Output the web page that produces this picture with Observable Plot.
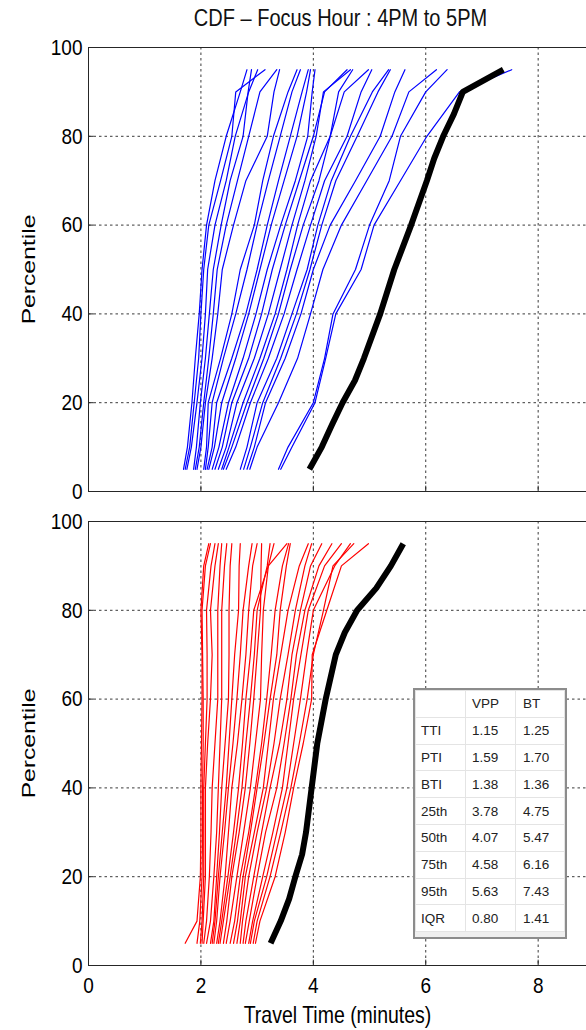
<!DOCTYPE html>
<html>
<head>
<meta charset="utf-8">
<script src="https://cdn.jsdelivr.net/npm/d3@7"></script>
<script src="https://cdn.jsdelivr.net/npm/@observablehq/plot@0.6"></script>
<style>
  body { margin: 0; background: #fff; }
  #wrap { position: relative; width: 586px; height: 1030px; overflow: hidden; background: #fff;
          font-family: "Liberation Sans", Arial, sans-serif; }
  #wrap svg { position: absolute; left: 0; }
  #tbl { position: absolute; left: 413px; top: 688px; width: 154px; height: 251px; box-sizing: border-box;
         border: 2px solid #8c8c8c; background: #efefef; }
  #tbl table { border-collapse: collapse; table-layout: fixed; background: #fff; }
  #tbl td { height: 26.8px; padding: 0 0 0 5px; border: 1px solid #e4e4e4; font-size: 13.5px; color: #222;
            box-sizing: border-box; white-space: nowrap; }
</style>
</head>
<body>
<div id="wrap"></div>
<script>
// ---------- data ----------
const titleText = "CDF \u2013 Focus Hour : 4PM to 5PM";
const yLabel = "Percentile";
const xLabel = "Travel Time (minutes)";
const xTicks = [0, 2, 4, 6, 8];
const yTicks = [0, 20, 40, 60, 80, 100];
const xGrid = [2, 4, 6, 8];
const yGrid = [20, 40, 60, 80];

// percentile levels for individual runs
const runPct = [5, 10, 20, 30, 40, 50, 60, 70, 80, 90, 95];
// percentile levels for the thick summary curves
const sumPct = [5, 10, 15, 20, 25, 30, 40, 50, 60, 70, 75, 80, 85, 90, 95];

// top panel: blue runs (travel time, minutes, at runPct)
const blueRuns = [
  [1.69, 1.76, 1.84, 1.90, 1.97, 2.02, 2.10, 2.25, 2.45, 2.70, 2.82],
  [1.72, 1.80, 1.88, 1.96, 2.00, 2.05, 2.14, 2.35, 2.55, 2.62, 3.14],
  [1.75, 1.83, 1.93, 2.02, 2.08, 2.12, 2.25, 2.45, 2.61, 2.85, 3.01],
  [1.87, 1.92, 1.99, 2.08, 2.15, 2.22, 2.36, 2.52, 2.75, 2.84, 2.90],
  [1.90, 1.97, 2.05, 2.14, 2.22, 2.29, 2.45, 2.65, 2.85, 3.05, 3.35],
  [1.93, 2.00, 2.08, 2.20, 2.30, 2.38, 2.58, 2.80, 3.18, 3.30, 3.40],
  [2.05, 2.10, 2.13, 2.35, 2.55, 2.70, 2.95, 3.10, 3.29, 3.55, 3.71],
  [2.08, 2.13, 2.20, 2.40, 2.62, 2.82, 3.00, 3.20, 3.41, 3.62, 3.77],
  [2.11, 2.20, 2.28, 2.55, 2.80, 3.00, 3.18, 3.38, 3.59, 3.80, 3.91],
  [2.14, 2.24, 2.37, 2.62, 2.85, 3.05, 3.25, 3.48, 3.71, 3.88, 3.95],
  [2.20, 2.32, 2.49, 2.75, 2.98, 3.18, 3.42, 3.68, 3.90, 3.98, 4.03],
  [2.25, 2.38, 2.55, 2.85, 3.08, 3.27, 3.50, 3.75, 4.00, 4.20, 4.60],
  [2.31, 2.45, 2.64, 2.95, 3.20, 3.41, 3.62, 3.85, 4.05, 4.18, 4.66],
  [2.37, 2.50, 2.75, 3.05, 3.32, 3.53, 3.72, 3.95, 4.30, 4.45, 4.70],
  [2.40, 2.55, 2.82, 3.12, 3.38, 3.59, 3.82, 4.10, 4.30, 4.55, 4.98],
  [2.45, 2.62, 2.88, 3.20, 3.48, 3.71, 3.95, 4.20, 4.60, 4.85, 5.04],
  [2.70, 2.82, 3.00, 3.35, 3.62, 3.89, 4.08, 4.32, 4.66, 5.05, 5.34],
  [2.76, 2.88, 3.10, 3.42, 3.70, 3.94, 4.15, 4.40, 4.78, 5.15, 5.37],
  [2.82, 2.95, 3.15, 3.50, 3.78, 4.00, 4.30, 4.75, 5.19, 5.45, 5.63],
  [2.87, 3.00, 3.38, 3.72, 3.95, 4.17, 4.50, 4.95, 5.40, 5.70, 6.19],
  [3.38, 3.55, 4.00, 4.20, 4.35, 4.75, 5.00, 5.35, 5.55, 6.00, 6.38],
  [3.42, 3.62, 4.03, 4.22, 4.40, 4.85, 5.08, 5.55, 6.02, 6.60, 7.53]
];
// top panel: thick black curve (BT)
const blackTop = [3.93, 4.15, 4.33, 4.52, 4.74, 4.90, 5.19, 5.44, 5.74, 6.02, 6.15, 6.31, 6.50, 6.66, 7.38];

// bottom panel: red runs
const redRuns = [
  [1.72, 1.93, 1.99, 2.00, 2.00, 2.01, 2.02, 2.02, 2.00, 2.05, 2.14],
  [1.93, 1.98, 2.02, 2.03, 2.03, 2.04, 2.04, 2.03, 2.02, 2.08, 2.17],
  [1.99, 2.02, 2.05, 2.05, 2.05, 2.08, 2.11, 2.11, 2.10, 2.18, 2.25],
  [2.02, 2.04, 2.08, 2.08, 2.08, 2.12, 2.17, 2.20, 2.17, 2.25, 2.31],
  [2.05, 2.10, 2.15, 2.18, 2.20, 2.25, 2.30, 2.30, 2.30, 2.34, 2.37],
  [2.10, 2.17, 2.23, 2.28, 2.31, 2.34, 2.37, 2.37, 2.37, 2.42, 2.46],
  [2.17, 2.23, 2.28, 2.33, 2.37, 2.43, 2.49, 2.50, 2.50, 2.52, 2.55],
  [2.20, 2.25, 2.31, 2.38, 2.45, 2.50, 2.55, 2.60, 2.67, 2.68, 2.70],
  [2.23, 2.28, 2.34, 2.42, 2.49, 2.57, 2.64, 2.70, 2.75, 2.85, 2.91],
  [2.28, 2.34, 2.43, 2.49, 2.55, 2.65, 2.73, 2.80, 2.85, 2.92, 3.00],
  [2.31, 2.37, 2.48, 2.58, 2.67, 2.74, 2.80, 2.88, 2.94, 3.20, 3.53],
  [2.34, 2.40, 2.52, 2.63, 2.73, 2.80, 2.88, 2.95, 3.00, 3.18, 3.23],
  [2.40, 2.46, 2.55, 2.68, 2.79, 2.87, 2.94, 3.00, 3.06, 3.07, 3.08],
  [2.45, 2.52, 2.64, 2.76, 2.88, 2.97, 3.06, 3.08, 3.11, 3.20, 3.30],
  [2.52, 2.60, 2.70, 2.85, 2.97, 3.08, 3.17, 3.25, 3.32, 3.45, 3.56],
  [2.58, 2.65, 2.75, 2.88, 3.00, 3.12, 3.23, 3.35, 3.41, 3.52, 3.59],
  [2.64, 2.70, 2.79, 2.95, 3.11, 3.20, 3.29, 3.42, 3.55, 3.75, 3.91],
  [2.70, 2.74, 2.85, 3.00, 3.17, 3.30, 3.41, 3.55, 3.68, 3.85, 3.97],
  [2.75, 2.80, 2.94, 3.08, 3.23, 3.40, 3.53, 3.62, 3.77, 3.95, 4.15],
  [2.79, 2.86, 3.00, 3.15, 3.35, 3.48, 3.60, 3.70, 3.85, 4.10, 4.33],
  [2.85, 2.92, 3.10, 3.28, 3.45, 3.55, 3.65, 3.78, 3.91, 4.20, 4.50],
  [2.88, 2.95, 3.17, 3.35, 3.53, 3.65, 3.77, 3.88, 4.00, 4.38, 4.66],
  [2.93, 3.00, 3.23, 3.42, 3.60, 3.75, 3.89, 4.00, 4.18, 4.35, 4.72],
  [2.97, 3.05, 3.32, 3.50, 3.65, 3.82, 3.97, 3.98, 4.24, 4.50, 4.98]
];
// bottom panel: thick black curve (VPP)
const blackBottom = [3.24, 3.42, 3.57, 3.68, 3.80, 3.87, 3.97, 4.07, 4.22, 4.40, 4.56, 4.78, 5.12, 5.38, 5.60];

// summary table
const tableRows = ["TTI", "PTI", "BTI", "25th", "50th", "75th", "95th", "IQR"];
const tableHeader = ["", "VPP", "BT"];
const vppValues = ["1.15", "1.59", "1.38", "3.78", "4.07", "4.58", "5.63", "0.80"];
const btValues  = ["1.25", "1.70", "1.36", "4.75", "5.47", "6.16", "7.43", "1.41"];

// ---------- build ----------
const tidyRuns = (runs) => runs.flatMap((r, id) => r.map((t, k) => ({id, t, p: runPct[k]})));
const tidySum = (vals) => vals.map((t, k) => ({t, p: sumPct[k]}));

const FONT = '"Liberation Sans", Arial, sans-serif';
const xDomain = [0, 8.86];

function commonMarks(runs, color, black) {
  return [
    Plot.gridX(xGrid, {stroke: "#3a3a3a", strokeOpacity: 1, strokeDasharray: "2.5,3"}),
    Plot.gridY(yGrid, {stroke: "#3a3a3a", strokeOpacity: 1, strokeDasharray: "2.5,3"}),
    Plot.ruleY(yTicks, {x1: 0, x2: 0.1, stroke: "#262626"}),
    Plot.ruleX(xTicks, {y1: 0, y2: 1.2, stroke: "#262626"}),
    Plot.line(tidyRuns(runs), {x: "t", y: "p", z: "id", stroke: color, strokeWidth: 1.2}),
    Plot.line(tidySum(black), {x: "t", y: "p", stroke: "#000", strokeWidth: 6, strokeLinecap: "butt"}),
    Plot.ruleX([0], {stroke: "#262626"}),
    Plot.ruleY([0, 100], {stroke: "#262626"}),
    Plot.axisY({ticks: yTicks, tickSize: 0, tickPadding: 6, label: null, fontSize: 19}),
    Plot.text([yLabel], {frameAnchor: "left", textAnchor: "middle", lineAnchor: "middle",
                         dx: -60, rotate: -90, fontSize: 19, fill: "#000"})
  ];
}

// the reference's lettering is vertically elongated: stretch text about its anchor
function stretch(svg) {
  svg.querySelectorAll("text").forEach(t => {
    const tr = t.getAttribute("transform") || "";
    const rotated = /rotate/.test(tr);
    t.setAttribute("transform", `${tr} ${rotated ? "scale(1.3,1)" : "scale(1,1.2)"}`.trim());
  });
}

const topPlot = Plot.plot({
  width: 586, height: 500,
  marginLeft: 88, marginRight: 0, marginTop: 47, marginBottom: 9,
  x: {domain: xDomain, axis: null},
  y: {domain: [0, 100], axis: null},
  style: {fontFamily: FONT, fontSize: "19px", color: "#000", background: "transparent", overflow: "visible"},
  marks: [
    ...commonMarks(blueRuns, "#0000ff", blackTop),
    Plot.text([titleText], {frameAnchor: "top", lineAnchor: "middle", dy: -29, dx: 3, fontSize: 20, fill: "#111"})
  ]
});

const bottomPlot = Plot.plot({
  width: 586, height: 530,
  marginLeft: 88, marginRight: 0, marginTop: 21, marginBottom: 65,
  x: {domain: xDomain, axis: null},
  y: {domain: [0, 100], axis: null},
  style: {fontFamily: FONT, fontSize: "19px", color: "#000", background: "transparent", overflow: "visible"},
  marks: [
    ...commonMarks(redRuns, "#ff0000", blackBottom),
    Plot.axisX({ticks: xTicks, tickSize: 0, tickPadding: 11, label: null, fontSize: 19}),
    Plot.text([xLabel], {frameAnchor: "bottom", lineAnchor: "middle", dy: 50, fontSize: 19.5, fill: "#000"})
  ]
});

stretch(topPlot); stretch(bottomPlot);
topPlot.style.top = "0px";
bottomPlot.style.top = "500px";
const wrap = document.getElementById("wrap");
wrap.appendChild(topPlot);
wrap.appendChild(bottomPlot);

// table overlay
const tbl = document.createElement("div");
tbl.id = "tbl";
const table = document.createElement("table");
const widths = [50, 50, 49];
const allRows = [tableHeader, ...tableRows.map((r, i) => [r, vppValues[i], btValues[i]])];
allRows.forEach(row => {
  const tr = document.createElement("tr");
  row.forEach((v, j) => {
    const td = document.createElement("td");
    td.textContent = v;
    td.style.width = widths[j] + "px";
    if (j > 0) td.style.paddingLeft = (j === 1 ? 6 : 7) + "px";
    tr.appendChild(td);
  });
  table.appendChild(tr);
});
tbl.appendChild(table);
wrap.appendChild(tbl);
</script>
</body>
</html>
